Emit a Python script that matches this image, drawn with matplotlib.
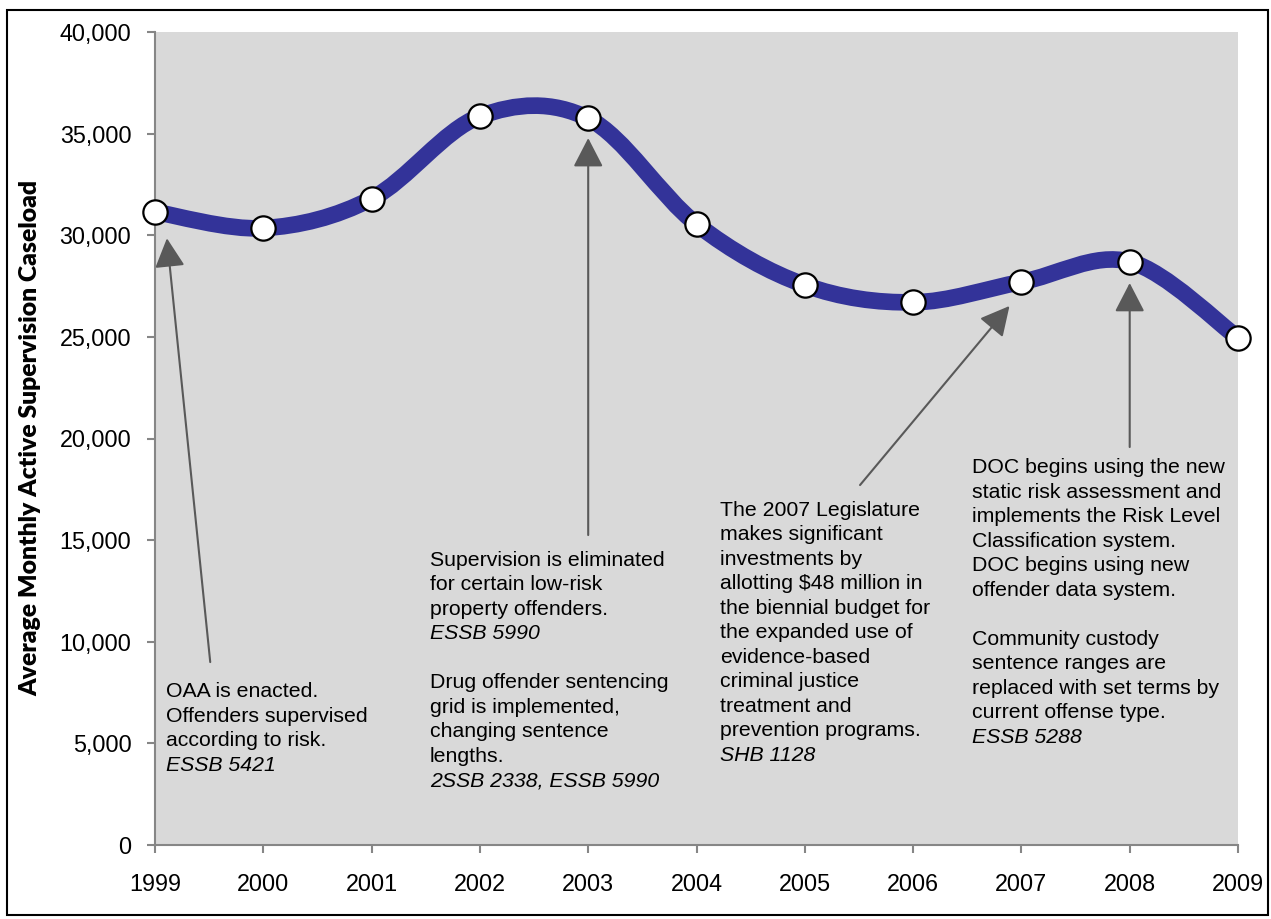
import numpy as np
import matplotlib
matplotlib.use("Agg")
import matplotlib.pyplot as plt
from matplotlib.path import Path
from matplotlib.patches import PathPatch, Rectangle
from matplotlib.ticker import FuncFormatter, MultipleLocator

plt.rcParams["font.family"] = ["Liberation Sans", "DejaVu Sans"]

years = [1999, 2000, 2001, 2002, 2003, 2004, 2005, 2006, 2007, 2008, 2009]
caseload = [31150, 30350, 31800, 35850, 35750, 30550, 27550, 26700, 27700, 28700, 24950]

# (tail x, tail y, head x, head y) for the callout arrows
arrows = [
    (1999.51, 9000, 1999.11, 29850),
    (2003.0, 15250, 2003.0, 34780),
    (2005.51, 17710, 2006.89, 26520),
    (2008.0, 19580, 2008.0, 27650),
]

# text blocks: (left x, first baseline y, lines); "i:" marks italic lines
notes = [
    (1999.10, 7280, ["OAA is enacted.", "Offenders supervised",
                     "according to risk.", "i:ESSB 5421"]),
    (2001.54, 13730, ["Supervision is eliminated", "for certain low-risk",
                      "property offenders.", "i:ESSB 5990", "",
                      "Drug offender sentencing", "grid is implemented,",
                      "changing sentence", "lengths.", "i:2SSB 2338, ESSB 5990"]),
    (2004.22, 16190, ["The 2007 Legislature", "makes significant",
                      "investments by", "allotting $48 million in",
                      "the biennial budget for", "the expanded use of",
                      "evidence-based", "criminal justice",
                      "treatment and", "prevention programs.", "i:SHB 1128"]),
    (2006.54, 18300, ["DOC begins using the new", "static risk assessment and",
                      "implements the Risk Level", "Classification system.",
                      "DOC begins using new", "offender data system.", "",
                      "Community custody", "sentence ranges are",
                      "replaced with set terms by", "current offense type.",
                      "i:ESSB 5288"]),
]


def smooth_path(xs, ys):
    # Catmull-Rom style cubic Bezier through every point
    pts = np.column_stack([xs, ys]).astype(float)
    ext = np.vstack([pts[0], pts, pts[-1]])
    verts = [pts[0]]
    codes = [Path.MOVETO]
    for i in range(len(pts) - 1):
        p0, p1, p2, p3 = ext[i], ext[i + 1], ext[i + 2], ext[i + 3]
        verts += [p1 + (p2 - p0) / 6, p2 - (p3 - p1) / 6, p2]
        codes += [Path.CURVE4] * 3
    return Path(verts, codes)


fig = plt.figure(figsize=(12.71, 9.19), dpi=100)
ax = fig.add_axes([155 / 1271, 1 - 845 / 919, (1238 - 155) / 1271, (845 - 32) / 919])
ax.set_facecolor("#d9d9d9")

ax.add_patch(PathPatch(smooth_path(years, caseload), facecolor="none",
                       edgecolor="#333399", linewidth=12, capstyle="round",
                       zorder=3))
ax.plot(years, caseload, linestyle="none", marker="o", markersize=17.5,
        markerfacecolor="white", markeredgecolor="black", markeredgewidth=1.6,
        zorder=4, clip_on=False)

for x0, y0, x1, y1 in arrows:
    ax.annotate("", xy=(x1, y1), xytext=(x0, y0),
                arrowprops=dict(arrowstyle="-|>,head_length=1.2,head_width=0.62",
                                mutation_scale=15, color="#595959", lw=1.5,
                                shrinkA=0, shrinkB=0), zorder=2)

for x, y, lines in notes:
    for i, line in enumerate(lines):
        if not line:
            continue
        italic = line.startswith("i:")
        ax.annotate(line[2:] if italic else line, xy=(x, y),
                    xytext=(0, -17.64 * i), textcoords="offset points",
                    fontsize=15.3, style="italic" if italic else "normal",
                    ha="left", va="baseline", color="black", zorder=5)

ax.set_xlim(1999, 2009)
ax.set_ylim(0, 40000)
ax.set_xticks(years)
ax.yaxis.set_major_locator(MultipleLocator(5000))
ax.yaxis.set_major_formatter(FuncFormatter(lambda v, p: f"{int(v):,}"))

for side in ("top", "right"):
    ax.spines[side].set_visible(False)
for side in ("left", "bottom"):
    ax.spines[side].set_color("#868686")
    ax.spines[side].set_linewidth(1.5)
ax.tick_params(axis="y", direction="out", length=6, width=1.5, color="#868686",
               labelsize=16.8, pad=11)
ax.tick_params(axis="x", direction="out", length=6, width=1.5, color="#868686",
               labelsize=16.8, pad=14.5)

ax.set_ylabel("Average Monthly Active Supervision Caseload", fontsize=17.8,
              fontweight="heavy", family=["Lato", "DejaVu Sans"], labelpad=0)
ax.yaxis.set_label_coords(-(155 - 41) / 1083, 0.5)

fig.patches.append(Rectangle((7 / 1271, 1 - 915 / 919), (1268 - 7) / 1271,
                             (915 - 10) / 919, transform=fig.transFigure,
                             fill=False, edgecolor="black", linewidth=1.5))

fig.savefig("out.png", dpi=100)
